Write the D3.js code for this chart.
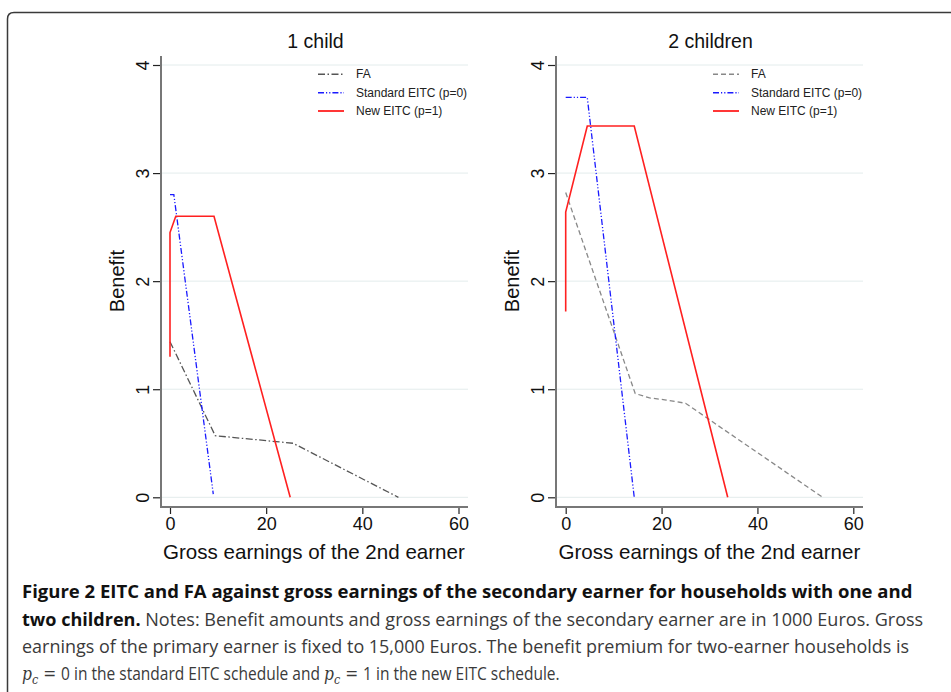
<!DOCTYPE html>
<html><head><meta charset="utf-8">
<script src="https://cdn.jsdelivr.net/npm/d3@7"></script>
<style>
html,body{margin:0;padding:0;background:#fff;}
svg{display:block;}
</style></head>
<body>
<svg id="chart" width="951" height="692"></svg>
<script>
// ---- data ----
const panelTitles = ["1 child", "2 children"];
const xTicks = [0, 20, 40, 60];
const yTicks = [0, 1, 2, 3, 4];
const seriesNames = ["FA", "Standard EITC (p=0)", "New EITC (p=1)"];
// 1 child
const fa1 = [[0, 1.44], [9.4, 0.57], [25.6, 0.5], [47.5, 0]];
const std1 = [[0, 2.8], [0.8, 2.8], [9, 0.03]];
const new1 = [[0, 1.3], [0, 2.45], [1.2, 2.6], [9.15, 2.6], [25, 0]];
// 2 children
const fa2 = [[0, 2.82], [14.5, 0.96], [17.5, 0.92], [21, 0.9], [25, 0.87], [53.6, 0]];
const std2 = [[0, 3.7], [4.5, 3.7], [14.3, 0]];
const new2 = [[0, 1.72], [0, 2.64], [4.5, 3.435], [14.3, 3.435], [33.8, 0]];
const captionBold1 = "Figure 2 EITC and FA against gross earnings of the secondary earner for households with one and";
const captionBold2 = "two children.";
const captionRest2 = " Notes: Benefit amounts and gross earnings of the secondary earner are in 1000 Euros. Gross";
const captionLine3 = "earnings of the primary earner is fixed to 15,000 Euros. The benefit premium for two-earner households is";

const svg = d3.select("#chart");

// frame
svg.append("path")
  .attr("d", "M7.5,1000 L7.5,19 Q7.5,12.5 14,12.5 L1000,12.5")
  .attr("fill", "none").attr("stroke", "#3a3a3a").attr("stroke-width", 1.5);

const panels = [
  {title: panelTitles[0], axisX: 161, x0: 170, x60: 458.5, right: 468, series: [fa1, std1, new1],
   faStyle: {color: "#555", dash: "7,2.5,1.5,2.5"}, legX: 318, xlabC: 314},
  {title: panelTitles[1], axisX: 556, x0: 565.7, x60: 853.3, right: 863, series: [fa2, std2, new2],
   faStyle: {color: "#888", dash: "5,3"}, legX: 713, xlabC: 709.5}
];

const font = "'Liberation Sans', Arial, sans-serif";

function fit(sel, target) {
  const w = sel.node().getComputedTextLength();
  const x = +sel.attr("x"), yv = +sel.attr("y");
  sel.attr("x", 0).attr("y", 0).attr("transform", `translate(${x},${yv}) scale(${target / w},1)`);
}

panels.forEach(p => {
  const x = d3.scaleLinear().domain([0, 60]).range([p.x0, p.x60]);
  const y = d3.scaleLinear().domain([0, 4]).range([497.3, 65]);
  const g = svg.append("g");
  const axisBottom = 507;

  // gridlines
  g.selectAll(".grid").data(yTicks).enter().append("line")
    .attr("x1", p.axisX).attr("x2", p.right)
    .attr("y1", d => y(d)).attr("y2", d => y(d))
    .attr("stroke", "#e3ecec").attr("stroke-width", 1);

  // y axis
  const ya = g.append("g").attr("transform", `translate(${p.axisX},0)`)
    .call(d3.axisLeft(y).tickValues(yTicks).tickSize(8).tickPadding(6).tickFormat(d3.format("d")));
  ya.select(".domain").remove();
  ya.selectAll(".tick line").attr("stroke", "#222").attr("stroke-width", 1.2);
  ya.selectAll(".tick text")
    .attr("font-family", font).attr("font-size", 18).attr("fill", "#111")
    .attr("text-anchor", "middle").attr("dy", null)
    .attr("transform", "translate(-18,0) rotate(-90)").attr("x", 0).attr("y", 0)
    .attr("dominant-baseline", "central");
  g.append("line").attr("x1", p.axisX).attr("x2", p.axisX).attr("y1", 56).attr("y2", axisBottom + 0.5)
    .attr("stroke", "#777").attr("stroke-width", 2);

  // x axis
  const xa = g.append("g").attr("transform", `translate(0,${axisBottom})`)
    .call(d3.axisBottom(x).tickValues(xTicks).tickSize(7).tickPadding(3).tickFormat(d3.format("d")));
  xa.select(".domain").remove();
  xa.selectAll(".tick line").attr("stroke", "#222").attr("stroke-width", 1.2);
  xa.selectAll(".tick text").attr("font-family", font).attr("font-size", 18).attr("fill", "#111");
  g.append("line").attr("x1", p.axisX - 1).attr("x2", p.right).attr("y1", axisBottom).attr("y2", axisBottom)
    .attr("stroke", "#777").attr("stroke-width", 2);

  // labels
  const cx = (p.axisX + p.right) / 2 + 1;
  g.append("text").attr("x", cx).attr("y", 48).attr("text-anchor", "middle")
    .attr("font-family", font).attr("font-size", 19.5).attr("fill", "#111").text(p.title);
  const xl = g.append("text").attr("x", p.xlabC - 151).attr("y", 559)
    .attr("font-family", font).attr("font-size", 20).attr("fill", "#111").text("Gross earnings of the 2nd earner");
  fit(xl, 302);
  g.append("text").attr("transform", `translate(${p.axisX - 37},281) rotate(-90)`)
    .attr("text-anchor", "middle").attr("font-family", font).attr("font-size", 20).attr("fill", "#111").text("Benefit");

  // series
  const styles = [
    {color: p.faStyle.color, dash: p.faStyle.dash, w: 1.3},
    {color: "#1a1aff", dash: "6,2,1.2,2,1.2,2", w: 1.3},
    {color: "#ff2020", dash: null, w: 1.6}
  ];
  const line = d3.line().x(d => x(d[0])).y(d => y(d[1]));
  p.series.forEach((s, i) => {
    g.append("path").datum(s).attr("d", line).attr("fill", "none")
      .attr("stroke", styles[i].color).attr("stroke-width", styles[i].w)
      .attr("stroke-dasharray", styles[i].dash).attr("stroke-linejoin", "miter");
  });

  // legend
  const legY = [74.3, 92.7, 111];
  seriesNames.forEach((n, i) => {
    g.append("line").attr("x1", p.legX).attr("x2", p.legX + 26).attr("y1", legY[i]).attr("y2", legY[i])
      .attr("stroke", styles[i].color).attr("stroke-width", i === 2 ? 1.8 : 1.6)
      .attr("stroke-dasharray", styles[i].dash);
    g.append("text").attr("x", p.legX + 38).attr("y", legY[i] + 4)
      .attr("font-family", font).attr("font-size", 12).attr("fill", "#222").text(n);
  });
});

// caption
const capFont = "'Liberation Sans Narrow', 'Open Sans', 'Noto Sans', sans-serif";
const c1 = svg.append("text").attr("x", 22).attr("y", 598).attr("font-family", capFont)
  .attr("font-size", 18).attr("font-weight", "bold").attr("fill", "#111").text(captionBold1);
fit(c1, 891);
const c2 = svg.append("text").attr("x", 22).attr("y", 626).attr("font-family", capFont).attr("font-size", 18);
c2.append("tspan").attr("font-weight", "bold").attr("fill", "#111").text(captionBold2);
c2.append("tspan").attr("fill", "#3a3a3a").text(captionRest2);
fit(c2, 902);
const c3 = svg.append("text").attr("x", 22).attr("y", 653).attr("font-family", capFont)
  .attr("font-size", 18).attr("fill", "#3a3a3a").text(captionLine3);
fit(c3, 888);
const c4 = svg.append("text").attr("x", 22).attr("y", 680).attr("font-family", capFont)
  .attr("font-size", 18).attr("fill", "#3a3a3a");
c4.append("tspan").attr("font-style", "italic").attr("font-family", "'DejaVu Serif', serif").text("p");
c4.append("tspan").attr("font-style", "italic").attr("font-family", "'DejaVu Serif', serif").attr("font-size", 13).attr("dy", 4).text("c");
c4.append("tspan").attr("dy", -4).attr("font-family", "'DejaVu Serif', serif").text(" = ");
c4.append("tspan").text("0 in the standard EITC schedule and ");
c4.append("tspan").attr("font-style", "italic").attr("font-family", "'DejaVu Serif', serif").text("p");
c4.append("tspan").attr("font-style", "italic").attr("font-family", "'DejaVu Serif', serif").attr("font-size", 13).attr("dy", 4).text("c");
c4.append("tspan").attr("dy", -4).attr("font-family", "'DejaVu Serif', serif").text(" = ");
c4.append("tspan").text("1 in the new EITC schedule.");
fit(c4, 538);
</script>
</body></html>
